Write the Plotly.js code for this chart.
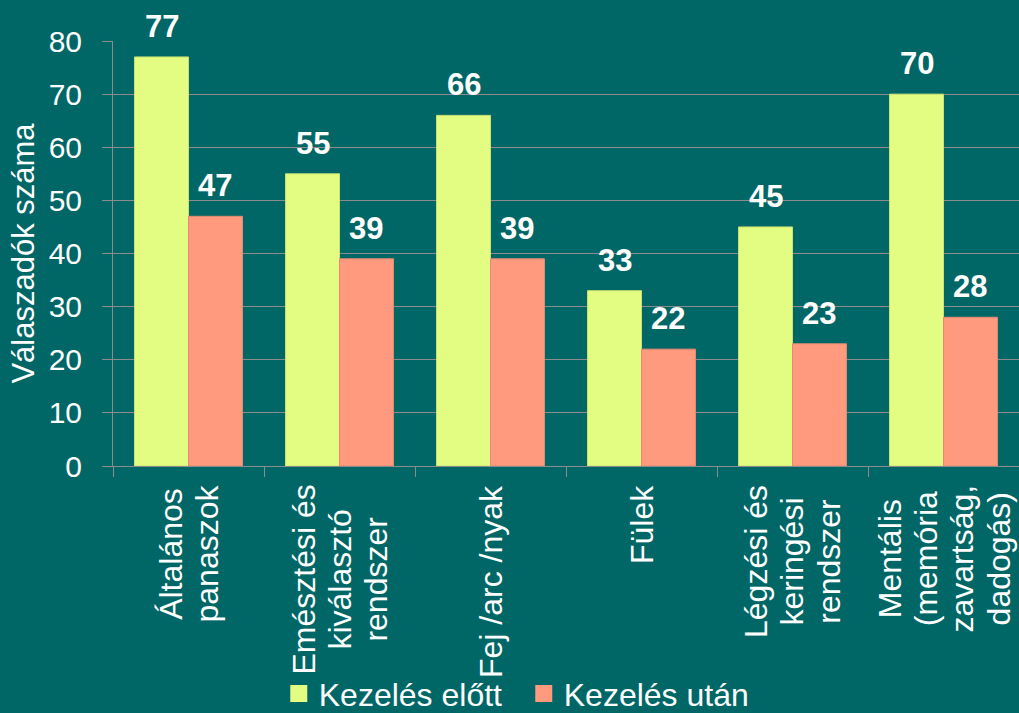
<!DOCTYPE html>
<html><head><meta charset="utf-8">
<script src="https://cdn.plot.ly/plotly-3.0.1.min.js"></script>
<style>html,body{margin:0;padding:0;background:#006666;}#chart{width:1019px;height:713px;}</style>
</head><body><div id="chart"></div>
<script>
// ---- data ----
const categoryLines = [
  ["Általános", "panaszok"],
  ["Emésztési és", "kiválasztó", "rendszer"],
  ["Fej /arc /nyak"],
  ["Fülek"],
  ["Légzési és", "keringési", "rendszer"],
  ["Mentális", "(memória", "zavartság,", "dadogás)"]
];
const categories = categoryLines.map(l => l.join(" "));
const before = [77, 55, 66, 33, 45, 70];
const after = [47, 39, 39, 22, 23, 28];
const seriesNames = ["Kezelés előtt", "Kezelés után"];
const yTitle = "Válaszadók száma";
const yTickVals = [0, 10, 20, 30, 40, 50, 60, 70, 80];

// ---- style ----
const BG = "#006666";
const GREEN = "#E2FD82";
const SALMON = "#FF9A7F";
const GRID = "#8C8C8C";
const FONT = "Liberation Sans, Arial, sans-serif";
const bargap = 0.285;

const traces = [
  {type: "bar", name: seriesNames[0], x: categories, y: before, showlegend: false,
   marker: {color: GREEN, line: {color: "#C9E272", width: 1}}, hoverinfo: "none"},
  {type: "bar", name: seriesNames[1], x: categories, y: after, showlegend: false,
   marker: {color: SALMON, line: {color: "#E58A72", width: 1}}, hoverinfo: "none"},
  // legend entries (no marks drawn)
  {type: "scatter", mode: "markers", name: seriesNames[0], x: [null], y: [null],
   marker: {symbol: "square", size: 13, color: GREEN, line: {color: GREEN, width: 4}}, hoverinfo: "none"},
  {type: "scatter", mode: "markers", name: seriesNames[1], x: [null], y: [null],
   marker: {symbol: "square", size: 13, color: SALMON, line: {color: SALMON, width: 4}}, hoverinfo: "none"}
];

const annotations = [];
const half = (1 - bargap) / 4;
[before, after].forEach((vals, s) => {
  vals.forEach((v, i) => {
    annotations.push({
      xref: "x", yref: "y", x: i + (s === 0 ? -half : half), y: v,
      text: String(v), showarrow: false, xanchor: "center", yanchor: "bottom",
      yshift: 11, font: {family: FONT, size: 31, color: "#ffffff", weight: "bold"}
    });
  });
});
categoryLines.forEach((lines, i) => {
  annotations.push({
    xref: "x", yref: "paper", x: i, y: 0, yshift: -17,
    text: lines.map(t => '<span style="font-size:32px">' + t + '</span>').join("<br>"),
    textangle: -90, align: "center", showarrow: false,
    xanchor: "center", yanchor: "top",
    font: {family: FONT, size: 28, color: "#ffffff"}
  });
});

const layout = {
  width: 1019, height: 713,
  paper_bgcolor: BG, plot_bgcolor: BG,
  margin: {l: 113, r: 0, t: 41, b: 247, pad: 0},
  barmode: "group", bargap: bargap, bargroupgap: 0,
  font: {family: FONT, color: "#ffffff", size: 30},
  showlegend: true,
  legend: {orientation: "h", xref: "container", yref: "container",
           x: 0.514, xanchor: "center", y: 0.027, yanchor: "middle",
           font: {family: FONT, size: 32, color: "#ffffff"}, itemgap: 22,
           entrywidth: 200, entrywidthmode: "pixels",
           bgcolor: "rgba(0,0,0,0)", itemwidth: 30, itemclick: false, itemdoubleclick: false},
  xaxis: {type: "category", range: [-0.5, 5.5], showticklabels: false,
          ticks: "outside", tickson: "boundaries", ticklen: 10, tickcolor: GRID, tickwidth: 1,
          showline: true, linecolor: GRID, linewidth: 1, showgrid: false, fixedrange: true},
  yaxis: {range: [0, 80], tickvals: yTickVals, ticktext: yTickVals.map(String),
          ticks: "outside", ticklen: 10, tickcolor: GRID, tickwidth: 1,
          ticklabelstandoff: 14,
          showline: true, linecolor: GRID, linewidth: 1,
          showgrid: true, gridcolor: GRID, gridwidth: 1, zeroline: false,
          tickfont: {family: FONT, size: 30, color: "#ffffff"},
          title: {text: yTitle, font: {family: FONT, size: 31, color: "#ffffff"}, standoff: 4},
          fixedrange: true},
  annotations: annotations
};

Plotly.newPlot("chart", traces, layout, {displayModeBar: false, staticPlot: true});
</script>
</body></html>
